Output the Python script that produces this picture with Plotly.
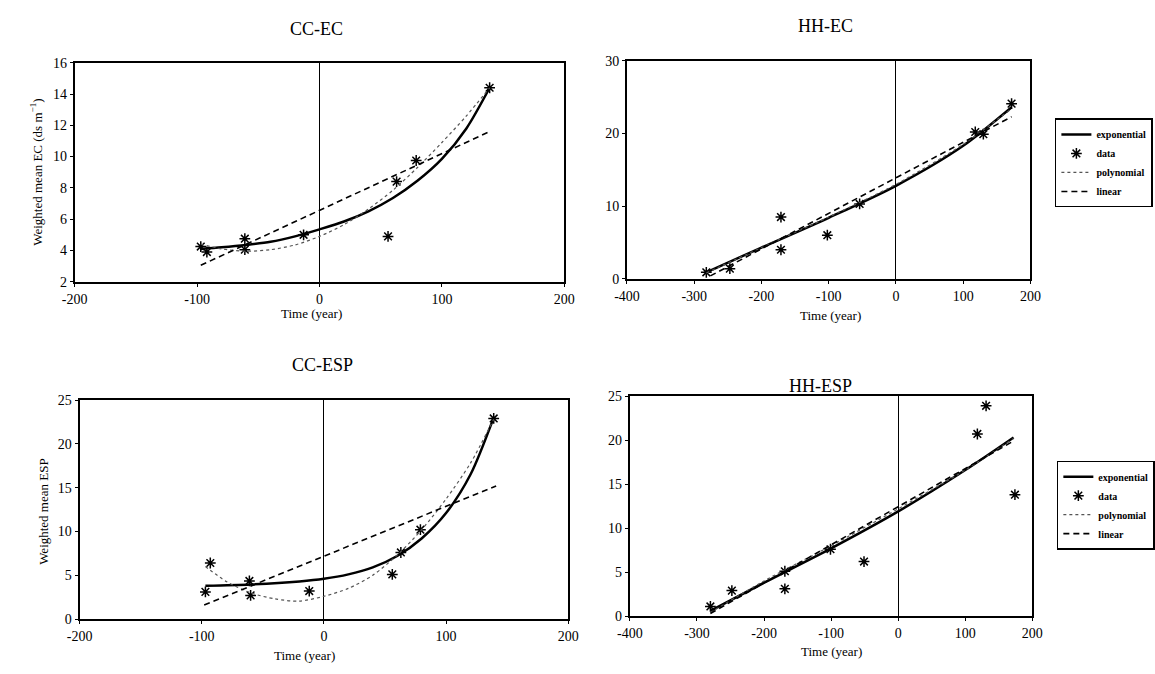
import plotly.graph_objects as go

W, H = 1155, 674

# ---------------- data ----------------
# CC-EC
cc_ec_t = [-97, -92, -61, -61, -13, 56, 63, 79, 139]
cc_ec_v = [4.25, 3.9, 4.75, 4.05, 5.0, 4.9, 8.4, 9.75, 14.4]
cc_ec_exp_t = [-97, -80, -60, -40, -20, 0, 20, 40, 60, 80, 100, 120, 139]
cc_ec_exp_v = [4.1, 4.2, 4.35, 4.55, 4.9, 5.35, 5.85, 6.5, 7.35, 8.45, 9.85, 11.8, 14.4]
cc_ec_poly_t = [-97, -80, -60, -40, -20, 0, 20, 40, 60, 80, 100, 120, 139]
cc_ec_poly_v = [4.4, 4.1, 3.95, 4.05, 4.35, 4.9, 5.65, 6.65, 7.85, 9.3, 10.9, 12.6, 14.4]
cc_ec_lin_t = [-97, 139]
cc_ec_lin_v = [3.05, 11.6]

# HH-EC
hh_ec_t = [-282, -247, -171, -171, -102, -54, 118, 130, 172]
hh_ec_v = [0.9, 1.4, 8.5, 4.0, 6.0, 10.3, 20.2, 19.9, 24.1]
hh_ec_exp_t = [-282, -200, -100, 0, 100, 172]
hh_ec_exp_v = [0.9, 4.3, 8.4, 12.8, 18.3, 23.6]
hh_ec_poly_t = [-282, -200, -100, 0, 100, 172]
hh_ec_poly_v = [0.8, 4.3, 8.5, 13.0, 18.5, 23.4]
hh_ec_lin_t = [-276, 172]
hh_ec_lin_v = [0.4, 22.3]

# CC-ESP
cc_esp_t = [-97, -93, -61, -60, -12, 56, 63, 79, 139]
cc_esp_v = [3.1, 6.4, 4.35, 2.7, 3.2, 5.1, 7.6, 10.2, 22.9]
cc_esp_exp_t = [-97, -60, -20, 0, 20, 40, 60, 80, 100, 120, 139]
cc_esp_exp_v = [3.8, 3.95, 4.3, 4.6, 5.1, 5.9, 7.2, 9.2, 12.1, 16.5, 23.0]
cc_esp_poly_t = [-97, -80, -60, -40, -20, 0, 20, 40, 60, 80, 100, 120, 139]
cc_esp_poly_v = [6.0, 4.3, 3.0, 2.3, 2.05, 2.6, 3.5, 5.0, 7.3, 10.2, 13.7, 17.8, 22.8]
cc_esp_lin_t = [-98, 141]
cc_esp_lin_v = [1.6, 15.2]

# HH-ESP
hh_esp_t = [-280, -248, -169, -169, -101, -51, 118, 131, 174]
hh_esp_v = [1.1, 2.9, 5.1, 3.1, 7.6, 6.2, 20.7, 23.9, 13.8]
hh_esp_exp_t = [-280, -200, -100, 0, 100, 172]
hh_esp_exp_v = [0.6, 3.8, 7.7, 11.9, 16.6, 20.3]
hh_esp_poly_t = [-280, -200, -100, 0, 100, 172]
hh_esp_poly_v = [0.4, 4.0, 8.0, 12.2, 16.6, 20.2]
hh_esp_lin_t = [-280, 172]
hh_esp_lin_v = [0.3, 19.9]

# tick labels
x_ticks_cc = [-200, -100, 0, 100, 200]
x_ticks_cc_text = ["-200", "-100", "0", "100", "200"]
x_ticks_hh = [-400, -300, -200, -100, 0, 100, 200]
x_ticks_hh_text = ["-400", "-300", "-200", "-100", "0", "100", "200"]

titles = ["CC-EC", "HH-EC", "CC-ESP", "HH-ESP"]
series_names = ["exponential", "data", "polynomial", "linear"]

# ---------------- figure ----------------
FONT = "Liberation Serif, Times New Roman, serif"
fig = go.Figure()

panels = [
    (cc_ec_t, cc_ec_v, cc_ec_exp_t, cc_ec_exp_v, cc_ec_poly_t, cc_ec_poly_v, cc_ec_lin_t, cc_ec_lin_v, None),
    (hh_ec_t, hh_ec_v, hh_ec_exp_t, hh_ec_exp_v, hh_ec_poly_t, hh_ec_poly_v, hh_ec_lin_t, hh_ec_lin_v, "legend"),
    (cc_esp_t, cc_esp_v, cc_esp_exp_t, cc_esp_exp_v, cc_esp_poly_t, cc_esp_poly_v, cc_esp_lin_t, cc_esp_lin_v, None),
    (hh_esp_t, hh_esp_v, hh_esp_exp_t, hh_esp_exp_v, hh_esp_poly_t, hh_esp_poly_v, hh_esp_lin_t, hh_esp_lin_v, "legend2"),
]

for i, (dt, dv, et, ev, pt, pv, lt, lv, leg) in enumerate(panels):
    xa = "x" if i == 0 else f"x{i+1}"
    ya = "y" if i == 0 else f"y{i+1}"
    show = leg is not None
    common = dict(xaxis=xa, yaxis=ya, showlegend=show)
    if show:
        common["legend"] = leg
    fig.add_trace(go.Scatter(x=et, y=ev, mode="lines", name=series_names[0],
                             line=dict(color="black", width=2.5, shape="spline", smoothing=0.8), **common))
    fig.add_trace(go.Scatter(x=dt, y=dv, mode="markers", name=series_names[1],
                             marker=dict(symbol="asterisk-open", size=9, color="black",
                                         line=dict(color="black", width=1.5)), **common))
    fig.add_trace(go.Scatter(x=pt, y=pv, mode="lines", name=series_names[2],
                             line=dict(color="#555555", width=1.2, dash="dot", shape="spline", smoothing=0.8), **common))
    fig.add_trace(go.Scatter(x=lt, y=lv, mode="lines", name=series_names[3],
                             line=dict(color="black", width=1.6, dash="6px,4px"), **common))

def px_x(p):
    return p / W

def px_y(p):
    return 1 - p / H

# domains (pixels -> paper)
doms = [
    ((63, 563), (57, 281), [-200, 200], [2, 16], 2, x_ticks_cc, x_ticks_cc_text),
    ((627, 1039), (55, 278), [-400, 200], [0, 30], 10, x_ticks_hh, x_ticks_hh_text),
    ((68, 567), (402, 626), [-200, 200], [0, 25], 5, x_ticks_cc, x_ticks_cc_text),
    ((630, 1041), (398, 623), [-400, 200], [0, 25], 5, x_ticks_hh, x_ticks_hh_text),
]

layout_axes = {}
for i, ((x0, x1), (y0, y1), xr, yr, ydt, tv, tt) in enumerate(doms):
    xk = "xaxis" if i == 0 else f"xaxis{i+1}"
    yk = "yaxis" if i == 0 else f"yaxis{i+1}"
    ya = "y" if i == 0 else f"y{i+1}"
    xa = "x" if i == 0 else f"x{i+1}"
    layout_axes[xk] = dict(
        domain=[px_x(x0), px_x(x1)], range=xr, anchor=ya,
        tickmode="array", tickvals=tv, ticktext=tt,
        showgrid=False, zeroline=True, zerolinecolor="black", zerolinewidth=1,
        showline=True, mirror=True, linecolor="black", linewidth=2,
        ticks="outside", ticklen=3, tickcolor="black",
        tickfont=dict(family=FONT, size=14, color="black"),
    )
    layout_axes[yk] = dict(
        domain=[px_y(y1), px_y(y0)], range=yr, anchor=xa, dtick=ydt,
        showgrid=False, zeroline=False,
        showline=True, mirror=True, linecolor="black", linewidth=2,
        ticks="outside", ticklen=3, tickcolor="black",
        tickfont=dict(family=FONT, size=14, color="black"),
    )

annotations = []
title_pos = [(310, 22), (830, 19), (316, 366), (825, 388)]
for t, (x, y) in zip(titles, title_pos):
    annotations.append(dict(text=t, x=px_x(x), y=px_y(y), xref="paper", yref="paper",
                            showarrow=False, xanchor="center", yanchor="middle",
                            font=dict(family=FONT, size=18, color="black")))
xlab_pos = [(305, 313), (835, 316), (298, 663), (836, 659)]
for (x, y) in xlab_pos:
    annotations.append(dict(text="Time (year)", x=px_x(x), y=px_y(y), xref="paper", yref="paper",
                            showarrow=False, xanchor="center", yanchor="middle",
                            font=dict(family=FONT, size=13, color="black")))
annotations.append(dict(text="Weighted mean EC (ds m<sup>−1</sup>)", x=px_x(24), y=px_y(169),
                        xref="paper", yref="paper", showarrow=False, textangle=-90,
                        xanchor="center", yanchor="middle",
                        font=dict(family=FONT, size=13, color="black")))
annotations.append(dict(text="Weighted mean ESP", x=px_x(31), y=px_y(516),
                        xref="paper", yref="paper", showarrow=False, textangle=-90,
                        xanchor="center", yanchor="middle",
                        font=dict(family=FONT, size=13, color="black")))

legend_style = dict(xanchor="left", yanchor="top", bgcolor="white",
                    bordercolor="black", borderwidth=1.5,
                    font=dict(family=FONT, size=10, color="black", weight="bold"),
                    itemwidth=30, tracegroupgap=0)

fig.update_layout(
    width=W, height=H, margin=dict(l=0, r=0, t=0, b=0),
    paper_bgcolor="white", plot_bgcolor="white",
    annotations=annotations,
    legend=dict(x=px_x(1064), y=px_y(114), **legend_style),
    legend2=dict(x=px_x(1066), y=px_y(464), **legend_style),
    **layout_axes,
)

fig.write_html("out.html")
